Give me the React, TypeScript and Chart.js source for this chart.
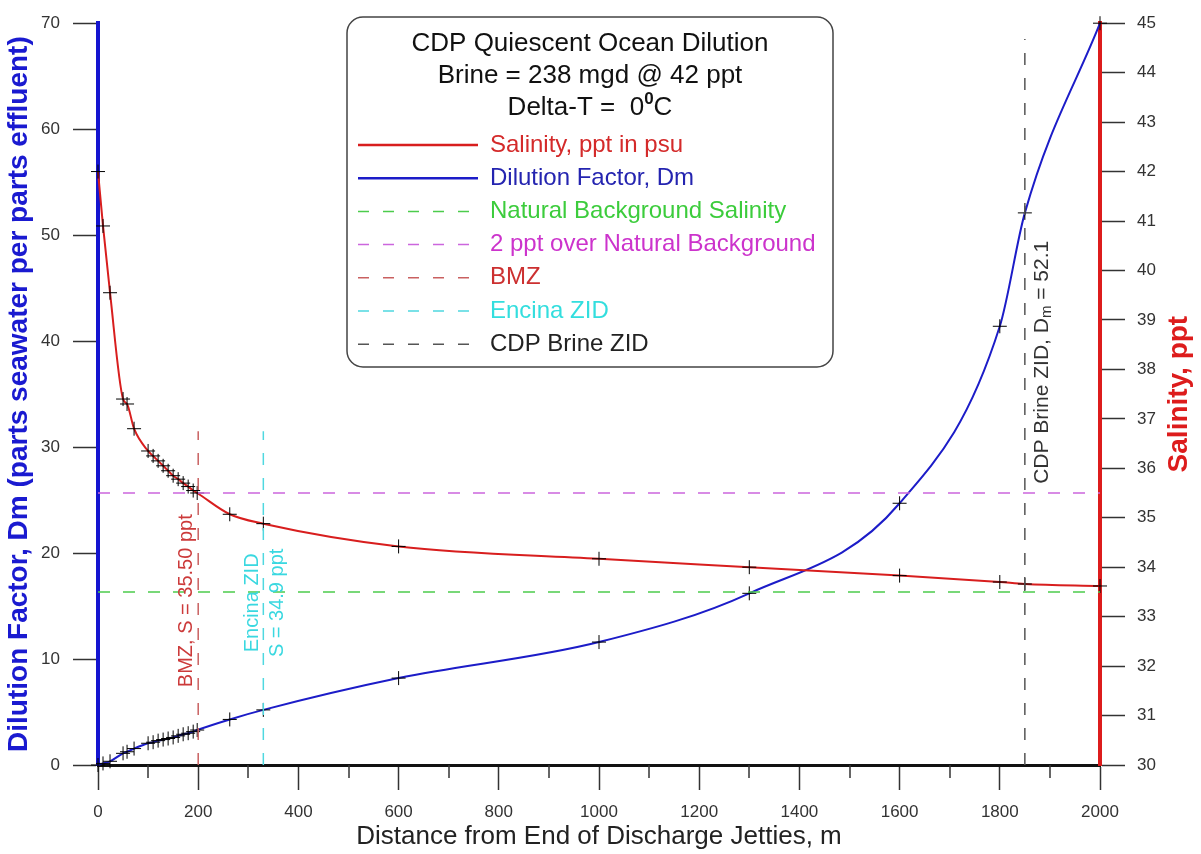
import React, { useEffect, useRef } from 'react';
import { Chart, registerables } from 'chart.js';

Chart.register(...registerables);

// ---------- data ----------
const distance = [0, 10, 24, 50, 58, 72, 100, 110, 120, 130, 140, 150, 160, 170, 180, 190, 198, 263, 330, 600, 1000, 1300, 1600, 1800, 1850, 2000];
const dilution = [0, 0.15, 0.35, 1.1, 1.25, 1.55, 2.05, 2.15, 2.3, 2.4, 2.5, 2.6, 2.75, 2.9, 3.0, 3.15, 3.3, 4.3, 5.2, 8.2, 11.6, 16.2, 24.7, 41.4, 52.1, 70];
const salinity = [42.0, 40.9, 39.55, 37.4, 37.3, 36.8, 36.35, 36.25, 36.15, 36.05, 35.95, 35.85, 35.78, 35.7, 35.63, 35.55, 35.5, 35.07, 34.88, 34.42, 34.17, 34.0, 33.83, 33.7, 33.66, 33.62];

const backgroundSalinity = 33.5;
const overBackgroundSalinity = 35.5;
const bmzDistance = 200;
const encinaDistance = 330;
const cdpZidDistance = 1850;
const zoneLineTop = 31.5;
const cdpLineTop = 68.5;

const titleLines = ['CDP Quiescent Ocean Dilution', 'Brine = 238 mgd @ 42 ppt'];
const legendLabels = [
  'Salinity, ppt in psu',
  'Dilution Factor, Dm',
  'Natural Background Salinity',
  '2 ppt over Natural Background',
  'BMZ',
  'Encina ZID',
  'CDP Brine ZID',
];

const FONT = '"Liberation Sans", Arial, Helvetica, sans-serif';
const RED = '#d81e1e';
const BLUE = '#1c1cc8';
const GREEN = '#4ccc4c';
const MAGENTA = '#cc66dd';
const BMZ_C = '#c96060';
const CYAN = '#4fd8e0';
const GRAY = '#555555';
const legendColors = [RED, BLUE, GREEN, MAGENTA, BMZ_C, CYAN, GRAY];
const legendTextColors = ['#d42a2a', '#2424b0', '#3ccc3c', '#cc33cc', '#cc3030', '#33dede', '#222222'];
const DASH = [12, 13];

const overlayPlugin = {
  id: 'overlay',
  afterDraw(chart: any) {
    const ctx = chart.ctx as CanvasRenderingContext2D;
    const xs = chart.scales.x;
    const ys = chart.scales.y;
    const area = chart.chartArea;

    // minor x ticks
    ctx.save();
    ctx.strokeStyle = '#333';
    ctx.lineWidth = 1.5;
    for (let v = 100; v < 2000; v += 200) {
      const px = Math.round(xs.getPixelForValue(v));
      ctx.beginPath();
      ctx.moveTo(px, area.bottom);
      ctx.lineTo(px, area.bottom + 13);
      ctx.stroke();
    }
    ctx.restore();

    const rot = (text: string, x: number, y: number, font: string, color: string) => {
      ctx.save();
      ctx.translate(x, y);
      ctx.rotate(-Math.PI / 2);
      ctx.font = font;
      ctx.fillStyle = color;
      ctx.textAlign = 'center';
      ctx.textBaseline = 'middle';
      ctx.fillText(text, 0, 0);
      ctx.restore();
    };

    // zone annotations
    rot('BMZ, S = 35.50 ppt', xs.getPixelForValue(bmzDistance) - 12, ys.getPixelForValue(15.5), `20px ${FONT}`, '#cc3a3a');
    rot('Encina ZID', xs.getPixelForValue(encinaDistance) - 11, ys.getPixelForValue(15.3), `20px ${FONT}`, '#3ad8e0');
    rot('S = 34.9 ppt', xs.getPixelForValue(encinaDistance) + 14, ys.getPixelForValue(15.3), `20px ${FONT}`, '#3ad8e0');

    // CDP brine ZID label with subscript
    {
      const cx = xs.getPixelForValue(cdpZidDistance) + 17;
      const cy = ys.getPixelForValue(38.0);
      ctx.save();
      ctx.translate(cx, cy);
      ctx.rotate(-Math.PI / 2);
      ctx.fillStyle = '#333';
      ctx.textBaseline = 'middle';
      const f1 = `21px ${FONT}`;
      const f2 = `15px ${FONT}`;
      const p1 = 'CDP Brine ZID, D';
      const p2 = 'm';
      const p3 = ' = 52.1';
      ctx.font = f1;
      const w1 = ctx.measureText(p1).width;
      const w3 = ctx.measureText(p3).width;
      ctx.font = f2;
      const w2 = ctx.measureText(p2).width;
      let x0 = -(w1 + w2 + w3) / 2;
      ctx.textAlign = 'left';
      ctx.font = f1;
      ctx.fillText(p1, x0, 0);
      x0 += w1;
      ctx.font = f2;
      ctx.fillText(p2, x0, 5);
      x0 += w2;
      ctx.font = f1;
      ctx.fillText(p3, x0, 0);
      ctx.restore();
    }

    // right axis title
    rot('Salinity, ppt', chart.width - 22, (area.top + area.bottom) / 2, `bold 28px ${FONT}`, '#dd1c1c');

    // legend box
    ctx.save();
    const bx = 347, by = 17, bw = 486, bh = 350;
    ctx.beginPath();
    (ctx as any).roundRect(bx, by, bw, bh, 16);
    ctx.fillStyle = '#ffffff';
    ctx.fill();
    ctx.lineWidth = 1.5;
    ctx.strokeStyle = '#444';
    ctx.stroke();

    const cxm = bx + bw / 2;
    ctx.fillStyle = '#111';
    ctx.textAlign = 'center';
    ctx.textBaseline = 'middle';
    ctx.font = `26px ${FONT}`;
    ctx.fillText(titleLines[0], cxm, 44);
    ctx.fillText(titleLines[1], cxm, 76);
    // Delta-T line with superscript
    {
      const a = 'Delta-T =  0';
      const b = '0';
      const c = 'C';
      ctx.font = `26px ${FONT}`;
      const wa = ctx.measureText(a).width;
      const wc = ctx.measureText(c).width;
      ctx.font = `bold 17px ${FONT}`;
      const wb = ctx.measureText(b).width;
      let x0 = cxm - (wa + wb + wc) / 2;
      ctx.textAlign = 'left';
      ctx.font = `26px ${FONT}`;
      ctx.fillText(a, x0, 108);
      x0 += wa;
      ctx.font = `bold 17px ${FONT}`;
      ctx.fillText(b, x0, 99);
      x0 += wb;
      ctx.font = `26px ${FONT}`;
      ctx.fillText(c, x0, 108);
    }

    const rowY0 = 145;
    const rowStep = 33.2;
    legendLabels.forEach((lab, i) => {
      const y = rowY0 + i * rowStep;
      ctx.beginPath();
      ctx.strokeStyle = legendColors[i];
      if (i < 2) {
        ctx.setLineDash([]);
        ctx.lineWidth = 2.5;
      } else {
        ctx.setLineDash([11, 14]);
        ctx.lineWidth = 1.5;
      }
      ctx.moveTo(358, y);
      ctx.lineTo(478, y);
      ctx.stroke();
      ctx.setLineDash([]);
      ctx.font = `24px ${FONT}`;
      ctx.fillStyle = legendTextColors[i];
      ctx.textAlign = 'left';
      ctx.textBaseline = 'middle';
      ctx.fillText(lab, 490, y);
    });
    ctx.restore();
  },
};

function pts(xsArr: number[], ysArr: number[]) {
  return xsArr.map((x, i) => ({ x, y: ysArr[i] }));
}

export default function App() {
  const ref = useRef<HTMLCanvasElement | null>(null);

  useEffect(() => {
    if (!ref.current) return;
    const tickFont = { family: FONT, size: 17 };
    const chart = new Chart(ref.current, {
      type: 'line',
      data: {
        datasets: [
          {
            data: [{ x: 0, y: backgroundSalinity }, { x: 2000, y: backgroundSalinity }],
            yAxisID: 'y1', borderColor: GREEN, borderDash: DASH, borderWidth: 1.5, pointRadius: 0,
          },
          {
            data: [{ x: 0, y: overBackgroundSalinity }, { x: 2000, y: overBackgroundSalinity }],
            yAxisID: 'y1', borderColor: MAGENTA, borderDash: DASH, borderWidth: 1.5, pointRadius: 0,
          },
          {
            data: [{ x: bmzDistance, y: 0 }, { x: bmzDistance, y: zoneLineTop }],
            yAxisID: 'y', borderColor: BMZ_C, borderDash: DASH, borderWidth: 1.5, pointRadius: 0,
          },
          {
            data: [{ x: encinaDistance, y: 0 }, { x: encinaDistance, y: zoneLineTop }],
            yAxisID: 'y', borderColor: CYAN, borderDash: DASH, borderWidth: 1.5, pointRadius: 0,
          },
          {
            data: [{ x: cdpZidDistance, y: 0 }, { x: cdpZidDistance, y: cdpLineTop }],
            yAxisID: 'y', borderColor: GRAY, borderDash: DASH, borderWidth: 1.5, pointRadius: 0,
          },
          {
            data: pts(distance, salinity),
            yAxisID: 'y1', borderColor: RED, borderWidth: 2, cubicInterpolationMode: 'monotone',
            pointStyle: 'cross', pointRadius: 7, pointBorderColor: '#000', pointBorderWidth: 1,
            pointBackgroundColor: '#000', clip: false,
          },
          {
            data: pts(distance, dilution),
            yAxisID: 'y', borderColor: BLUE, borderWidth: 2, cubicInterpolationMode: 'monotone',
            pointStyle: 'cross', pointRadius: 7, pointBorderColor: '#000', pointBorderWidth: 1,
            pointBackgroundColor: '#000', clip: false,
          },
        ] as any,
      },
      options: {
        responsive: false,
        animation: false,
        layout: { padding: { top: 14, left: 0, right: 0, bottom: 0 } },
        plugins: { legend: { display: false }, tooltip: { enabled: false } },
        scales: {
          x: {
            type: 'linear', position: 'bottom', min: 0, max: 2000,
            ticks: {
              stepSize: 100, autoSkip: false, maxRotation: 0, padding: 12, color: '#333', font: tickFont,
              callback: (v: any) => (Number(v) % 200 === 0 ? String(v) : ''),
            },
            grid: {
              drawOnChartArea: false, tickLength: 25, tickWidth: 1.5,
              tickColor: (c: any) => (c.tick && c.tick.value % 200 === 0 ? '#333' : 'rgba(0,0,0,0)'),
            },
            border: { color: '#111', width: 3 },
            title: {
              display: true, text: 'Distance from End of Discharge Jetties, m', color: '#222',
              font: { family: FONT, size: 26 }, padding: { top: 0, bottom: 2 },
            },
            afterFit: (s: any) => { s.height = 89; },
          },
          y: {
            type: 'linear', position: 'left', min: 0, max: 70,
            ticks: { stepSize: 10, padding: 13, color: '#333', font: tickFont },
            grid: { drawOnChartArea: false, tickLength: 25, tickWidth: 1.5, tickColor: '#333' },
            border: { color: '#1515d0', width: 4 },
            title: {
              display: true, text: 'Dilution Factor, Dm (parts seawater per parts effluent)', color: '#1a1ad0',
              font: { family: FONT, size: 28, weight: 'bold' }, padding: { top: 2, bottom: 0 },
            },
            afterFit: (s: any) => { s.width = 98; },
          },
          y1: {
            type: 'linear', position: 'right', min: 30, max: 45,
            ticks: { stepSize: 1, padding: 12, color: '#333', font: tickFont },
            grid: { drawOnChartArea: false, tickLength: 25, tickWidth: 1.5, tickColor: '#333' },
            border: { color: '#dd1c1c', width: 4 },
            afterFit: (s: any) => { s.width = 101; },
          },
        },
      } as any,
      plugins: [overlayPlugin],
    });
    return () => chart.destroy();
  }, []);

  return (
    <div style={{ position: 'absolute', left: 0, top: 0, width: 1201, height: 854, background: '#fff' }}>
      <canvas ref={ref} width={1201} height={854} style={{ display: 'block' }} />
    </div>
  );
}
